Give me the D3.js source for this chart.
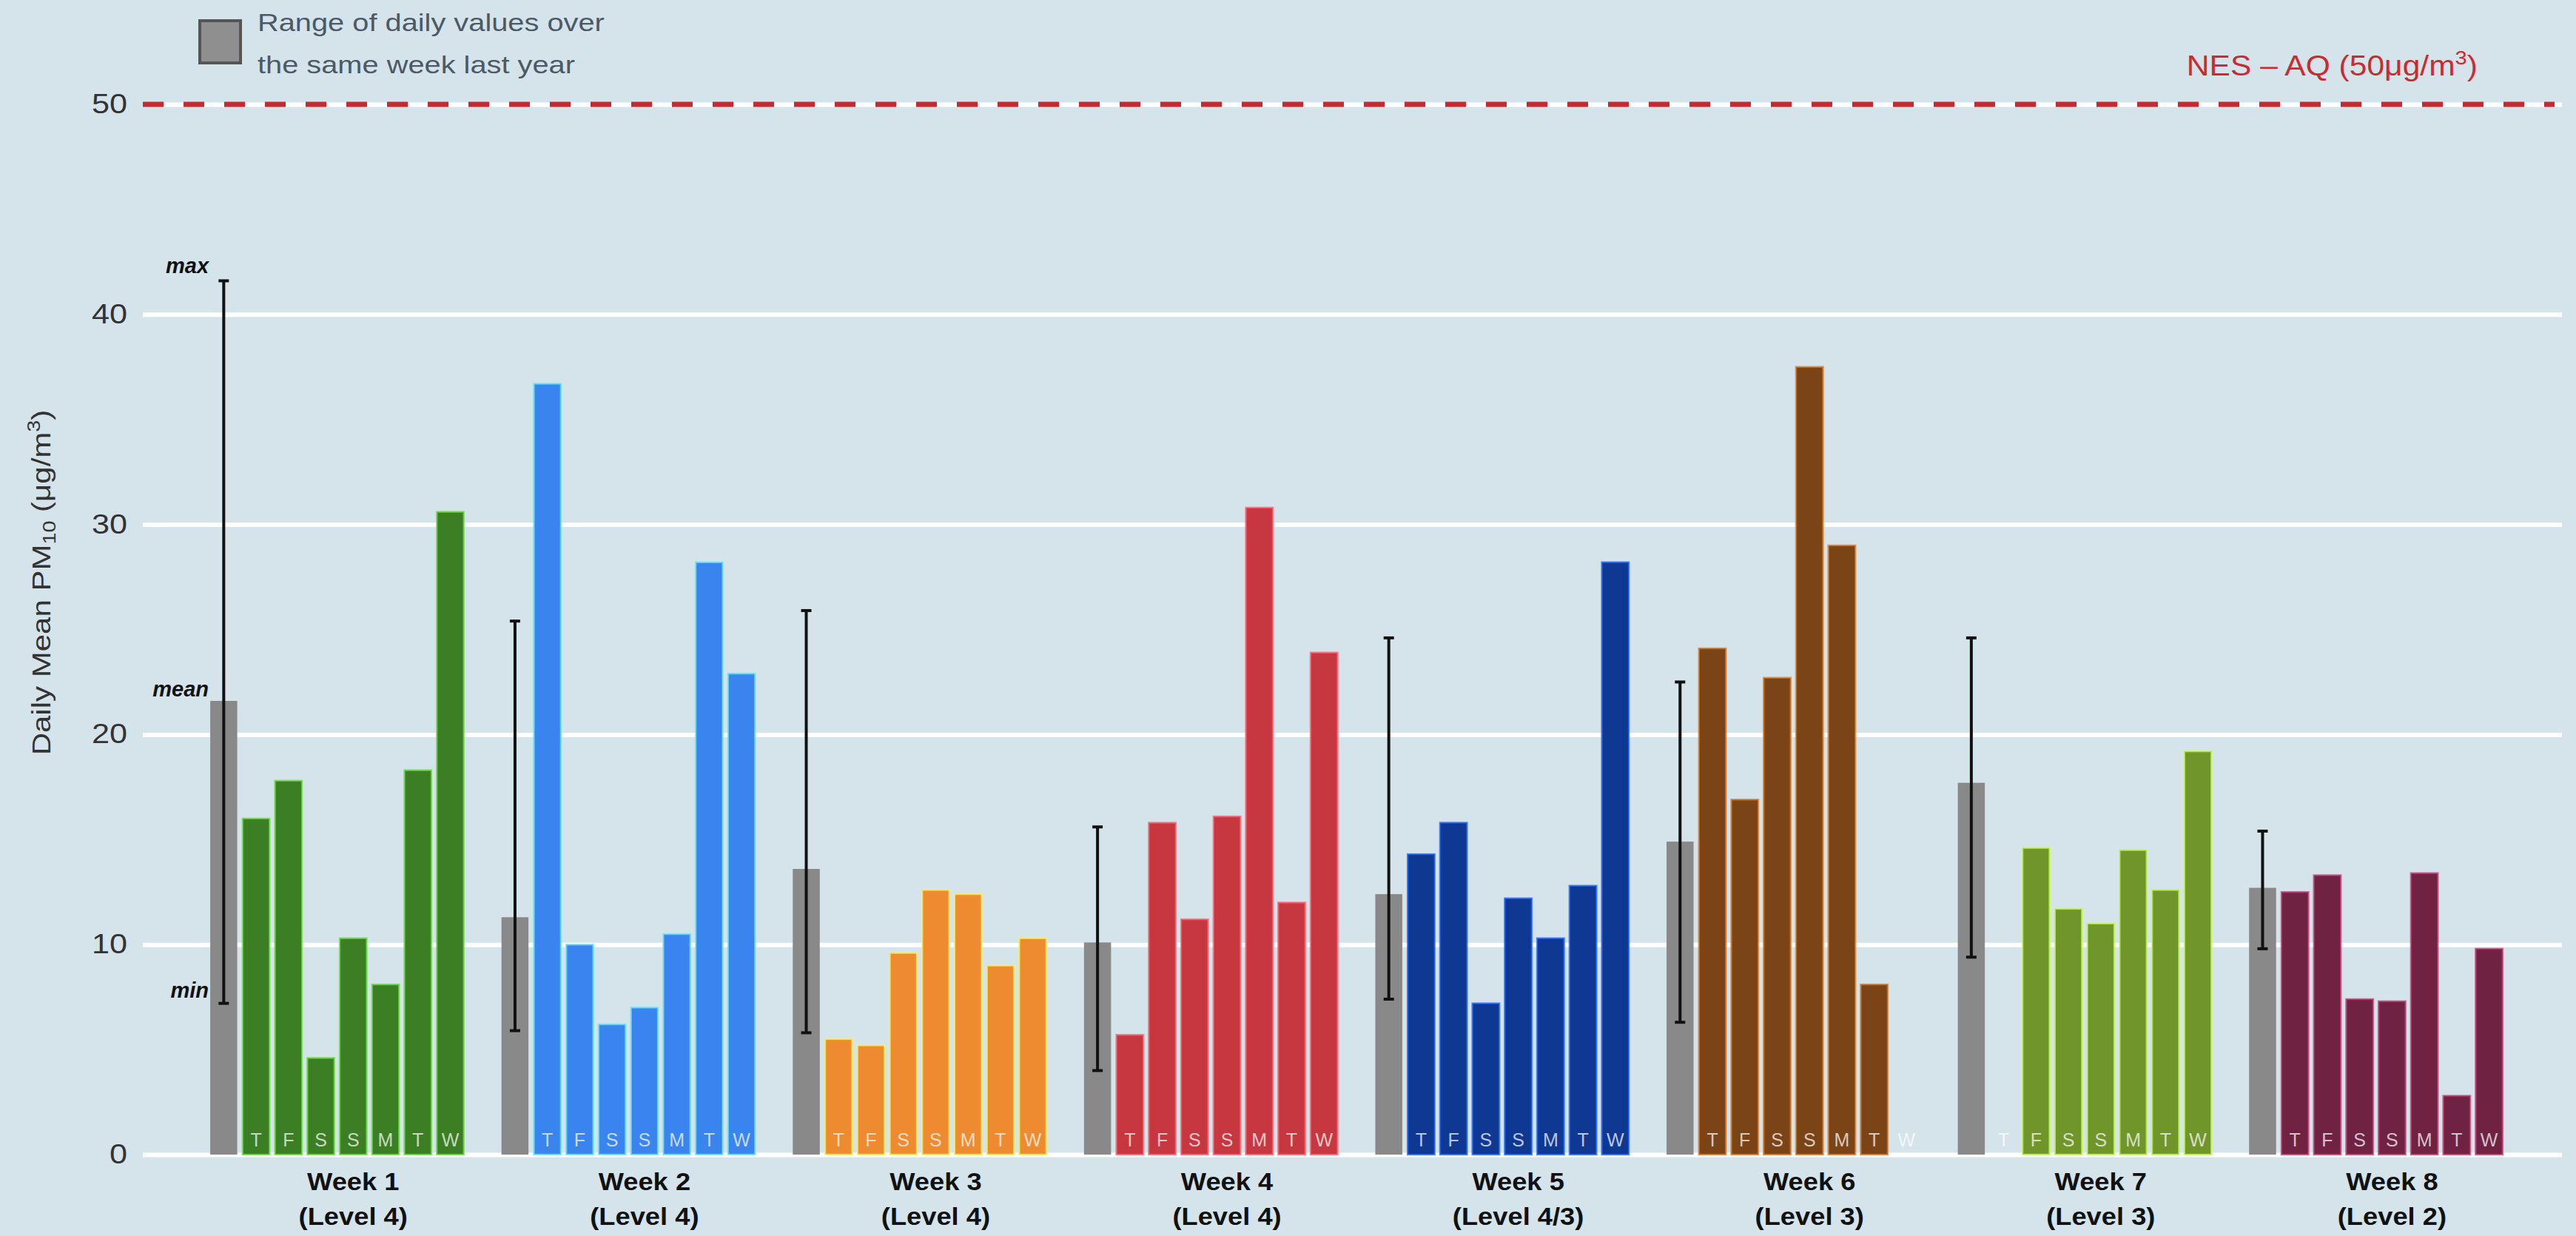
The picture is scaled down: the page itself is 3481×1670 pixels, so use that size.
<!DOCTYPE html>
<html>
<head>
<meta charset="utf-8">
<script src="https://cdn.jsdelivr.net/npm/d3@7"></script>
<style>
	body { margin: 0; background: #d5e4eb; }
	text { font-family: "Liberation Sans", Arial, Helvetica, sans-serif; }
</style>
</head>
<body>
<script>

// data
var weeks = ["Week 1", "Week 2", "Week 3", "Week 4", "Week 5", "Week 6", "Week 7", "Week 8"];
var levels = ["(Level 4)", "(Level 4)", "(Level 4)", "(Level 4)", "(Level 4/3)", "(Level 3)", "(Level 3)", "(Level 2)"];
var days = ["T", "F", "S", "S", "M", "T", "W"];

var dailyValues = [
	[16.0, 17.8, 4.6, 10.3, 8.1, 18.3, 30.6],
	[36.7, 10.0, 6.2, 7.0, 10.5, 28.2, 22.9],
	[5.5, 5.2, 9.6, 12.6, 12.4, 9.0, 10.3],
	[5.7, 15.8, 11.2, 16.1, 30.8, 12.0, 23.9],
	[14.3, 15.8, 7.2, 12.2, 10.3, 12.8, 28.2],
	[24.1, 16.9, 22.7, 37.5, 29.0, 8.1, null],
	[null, 14.6, 11.7, 11.0, 14.5, 12.6, 19.2],
	[12.5, 13.3, 7.4, 7.3, 13.4, 2.8, 9.8]
];

// same week last year
var lastYearMean = [21.6, 11.3, 13.6, 10.1, 12.4, 14.9, 17.7, 12.7];
var lastYearMin = [7.2, 5.9, 5.8, 4.0, 7.4, 6.3, 9.4, 9.8];
var lastYearMax = [41.6, 25.4, 25.9, 15.6, 24.6, 22.5, 24.6, 15.4];

var weekColours = ["#3b7e23", "#3a84ef", "#ee8a2f", "#c7373f", "#0f3892", "#7a4416", "#70952a", "#6f2241"];
var yTicks = [0, 10, 20, 30, 40, 50];
var limitValue = 50;

var svgDims = {
	width: 3481,
	height: 1670,
	plot: { left: 193, right: 3462, top: 141, bottom: 1560 }
};

var svg = d3.select("body").append("svg")
	.attr("width", svgDims.width)
	.attr("height", svgDims.height);

svg.append("rect")
	.attr("width", svgDims.width)
	.attr("height", svgDims.height)
	.attr("fill", "#d5e4eb");

// 9 slots per week: last year bar, 7 days, a gap
var slotsPerWeek = 9;
var x = d3.scaleLinear()
	.domain([-2.5, 72.25])
	.range([svgDims.plot.left, svgDims.plot.right]);

var y = d3.scaleLinear()
	.domain([0, 50])
	.range([svgDims.plot.bottom, svgDims.plot.top]);

var barW = x(0.835) - x(0);

// widen text a bit, the original type is set wide
function stretch(sel, k) {
	sel.each(function() {
		var len = this.getComputedTextLength();
		d3.select(this).attr("textLength", len * k).attr("lengthAdjust", "spacingAndGlyphs");
	});
}

// grid
var yAxis = d3.axisLeft(y).tickValues(yTicks).tickSize(-(svgDims.plot.right - svgDims.plot.left)).tickPadding(21);
var gAxis = svg.append("g")
	.attr("transform", "translate(" + svgDims.plot.left + ",0)")
	.call(yAxis);
gAxis.select(".domain").remove();
gAxis.selectAll(".tick line").attr("stroke", "#ffffff").attr("stroke-width", 6);
gAxis.selectAll(".tick text")
	.attr("fill", "#333333")
	.attr("font-size", 36)
	.attr("font-family", "Liberation Sans, Arial, sans-serif")
	.call(stretch, 1.2);

// flat bars list
var bars = [];
weeks.forEach(function(w, wi) {
	bars.push({ week: wi, slot: wi * slotsPerWeek, value: lastYearMean[wi], fill: "#898989", lastYear: true });
	days.forEach(function(d, di) {
		bars.push({ week: wi, slot: wi * slotsPerWeek + di + 1, value: dailyValues[wi][di], fill: weekColours[wi], day: d, lastYear: false });
	});
});

svg.append("g").selectAll("rect")
	.data(bars.filter(function(d) { return d.value != null; }))
	.enter().append("rect")
	.attr("x", function(d) { return x(d.slot) - barW / 2; })
	.attr("y", function(d) { return y(d.value); })
	.attr("width", barW)
	.attr("height", function(d) { return y(0) - y(d.value); })
	.attr("fill", function(d) { return d.fill; })
	.attr("stroke", function(d) { return d.lastYear ? "none" : d3.color(d.fill).brighter(1.6); })
	.attr("stroke-opacity", 0.7)
	.attr("stroke-width", 2.5);

// day letters
svg.append("g").selectAll("text")
	.data(bars.filter(function(d) { return !d.lastYear; }))
	.enter().append("text")
	.attr("x", function(d) { return x(d.slot); })
	.attr("y", y(0) - 11)
	.attr("text-anchor", "middle")
	.attr("font-size", 25)
	.attr("fill", "#ffffff")
	.attr("fill-opacity", 0.72)
	.text(function(d) { return d.day; });

// range of last year
var err = svg.append("g").selectAll("g")
	.data(weeks)
	.enter().append("g");
err.append("line")
	.attr("x1", function(d, i) { return x(i * slotsPerWeek); })
	.attr("x2", function(d, i) { return x(i * slotsPerWeek); })
	.attr("y1", function(d, i) { return y(lastYearMin[i]); })
	.attr("y2", function(d, i) { return y(lastYearMax[i]); })
	.attr("stroke", "#111111")
	.attr("stroke-width", 4);
[lastYearMin, lastYearMax].forEach(function(arr) {
	err.append("line")
		.attr("x1", function(d, i) { return x(i * slotsPerWeek) - 7; })
		.attr("x2", function(d, i) { return x(i * slotsPerWeek) + 7; })
		.attr("y1", function(d, i) { return y(arr[i]); })
		.attr("y2", function(d, i) { return y(arr[i]); })
		.attr("stroke", "#111111")
		.attr("stroke-width", 4);
});

// max / mean / min notes on week 1
var noteX = x(0) - barW / 2 - 2;
var notes = [
	{ label: "max", v: lastYearMax[0], dy: -10 },
	{ label: "mean", v: lastYearMean[0], dy: -6 },
	{ label: "min", v: lastYearMin[0], dy: -8 }
];
svg.append("g").selectAll("text")
	.data(notes)
	.enter().append("text")
	.attr("x", noteX)
	.attr("y", function(d) { return y(d.v) + d.dy; })
	.attr("text-anchor", "end")
	.attr("font-size", 29)
	.attr("font-weight", "bold")
	.attr("font-style", "italic")
	.attr("fill", "#111111")
	.text(function(d) { return d.label; });

// NES-AQ limit
svg.append("line")
	.attr("x1", svgDims.plot.left)
	.attr("x2", svgDims.plot.right - 10)
	.attr("y1", y(limitValue))
	.attr("y2", y(limitValue))
	.attr("stroke", "#c9292e")
	.attr("stroke-width", 7)
	.attr("stroke-dasharray", "28,27");

var nes = svg.append("text")
	.attr("x", 3348)
	.attr("y", 102)
	.attr("text-anchor", "end")
	.attr("font-size", 38)
	.attr("fill", "#cc2a2f");
nes.append("tspan").text("NES \u2013 AQ (50\u03bcg/m");
nes.append("tspan").attr("font-size", 26).attr("dy", -15).text("3");
nes.append("tspan").attr("dy", 15).text(")");
nes.call(stretch, 1.12);

// week labels
var wk = svg.append("g").selectAll("text")
	.data(weeks)
	.enter().append("text")
	.attr("x", function(d, i) { return x(i * slotsPerWeek + 4); })
	.attr("y", 1608)
	.attr("text-anchor", "middle")
	.attr("font-size", 33)
	.attr("font-weight", "bold")
	.attr("fill", "#111111")
	.text(function(d) { return d; });
wk.call(stretch, 1.1);

var lv = svg.append("g").selectAll("text")
	.data(levels)
	.enter().append("text")
	.attr("x", function(d, i) { return x(i * slotsPerWeek + 4); })
	.attr("y", 1655)
	.attr("text-anchor", "middle")
	.attr("font-size", 33)
	.attr("font-weight", "bold")
	.attr("fill", "#111111")
	.text(function(d) { return d; });
lv.call(stretch, 1.1);

// y axis title
var yt = svg.append("text")
	.attr("transform", "translate(68,787) rotate(-90)")
	.attr("text-anchor", "middle")
	.attr("font-size", 35)
	.attr("fill", "#333333");
yt.append("tspan").text("Daily Mean PM");
yt.append("tspan").attr("font-size", 24).attr("dy", 7).text("10");
yt.append("tspan").attr("dy", -7).text(" (\u03bcg/m");
yt.append("tspan").attr("font-size", 24).attr("dy", -14).text("3");
yt.append("tspan").attr("dy", 14).text(")");
yt.call(stretch, 1.2);

// legend
svg.append("rect")
	.attr("x", 270)
	.attr("y", 28)
	.attr("width", 55)
	.attr("height", 57)
	.attr("fill", "#8f8f8f")
	.attr("stroke", "#555555")
	.attr("stroke-width", 4);

svg.append("g").selectAll("text")
	.data(["Range of daily values over", "the same week last year"])
	.enter().append("text")
	.attr("x", 348)
	.attr("y", function(d, i) { return 42 + i * 57; })
	.attr("font-size", 34)
	.attr("fill", "#4b5a66")
	.text(function(d) { return d; })
	.call(stretch, 1.17);

</script>
</body>
</html>
